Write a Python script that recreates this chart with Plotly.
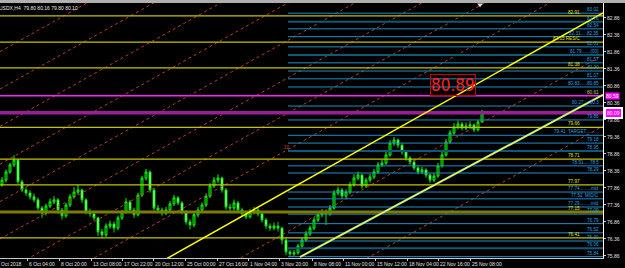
import plotly.graph_objects as go

# ---------------- data ----------------
title_text = "USDX,H4  79.80 80.16 79.80 80.10"

first_open = 77.95
closes = [78.09, 78.33, 78.54, 78.68, 78.04, 77.80, 77.71, 77.60, 77.51, 77.27,
          77.12, 77.33, 77.45, 77.51, 77.21, 77.04, 77.36, 77.60, 77.74, 77.80,
          77.51, 77.15, 77.10, 76.98, 76.57, 76.48, 76.74, 76.80, 76.68, 76.98,
          77.15, 77.45, 77.21, 77.07, 77.65, 78.15, 78.33, 77.80, 77.27, 77.21,
          77.12, 77.21, 77.39, 77.57, 77.42, 77.15, 76.86, 76.77, 77.07, 77.21,
          77.36, 77.62, 77.92, 78.09, 78.15, 77.80, 77.30, 77.27, 77.42, 77.21,
          77.10, 77.01, 77.15, 77.21, 77.10, 76.92, 76.74, 76.68, 76.74, 76.68,
          76.33, 75.98, 75.92, 75.95, 76.15, 76.33, 76.51, 76.68, 76.92, 77.07,
          77.15, 77.10, 77.27, 77.71, 77.80, 77.62, 77.74, 77.95, 78.15, 78.24,
          77.92, 78.09, 78.18, 78.33, 78.54, 78.59, 78.83, 79.18, 79.27, 79.12,
          78.92, 78.74, 78.62, 78.45, 78.33, 78.39, 78.24, 78.09, 78.21, 78.51,
          78.83, 79.21, 79.48, 79.65, 79.74, 79.62, 79.68, 79.71, 79.57, 79.80,
          80.10]
highs = [78.18, 78.40, 78.60, 78.82, 78.72, 78.10, 77.88, 77.79, 77.70, 77.58,
         77.33, 77.40, 77.55, 77.62, 77.56, 77.27, 77.42, 77.68, 77.88, 77.95,
         77.84, 77.56, 77.25, 77.16, 77.02, 76.66, 76.82, 76.90, 76.88, 77.05,
         77.22, 77.56, 77.50, 77.28, 77.72, 78.22, 78.42, 78.38, 77.86, 77.36,
         77.28, 77.30, 77.48, 77.66, 77.62, 77.48, 77.20, 76.94, 77.14, 77.30,
         77.44, 77.70, 78.00, 78.18, 78.26, 78.20, 77.86, 77.40, 77.52, 77.48,
         77.28, 77.18, 77.24, 77.30, 77.28, 77.16, 76.98, 76.82, 76.84, 76.86,
         76.72, 76.40, 76.04, 76.03, 76.22, 76.40, 76.60, 76.76, 77.00, 77.16,
         77.24, 77.22, 77.36, 77.80, 77.90, 77.86, 77.82, 78.04, 78.26, 78.34,
         78.28, 78.16, 78.28, 78.42, 78.62, 78.70, 78.92, 79.26, 79.36, 79.32,
         79.18, 78.98, 78.80, 78.68, 78.52, 78.48, 78.44, 78.30, 78.30, 78.60,
         78.92, 79.30, 79.56, 79.76, 79.84, 79.80, 79.78, 79.82, 79.76, 79.86,
         80.16]
lows = [77.90, 78.02, 78.28, 78.48, 77.98, 77.74, 77.63, 77.52, 77.44, 77.20,
        76.98, 77.05, 77.27, 77.38, 77.10, 76.93, 76.98, 77.30, 77.55, 77.66,
        77.42, 77.08, 77.02, 76.90, 76.45, 76.39, 76.42, 76.66, 76.55, 76.62,
        76.92, 77.10, 77.12, 76.98, 77.02, 77.60, 78.08, 77.72, 77.20, 77.12,
        77.04, 77.06, 77.15, 77.33, 77.35, 77.08, 76.78, 76.64, 76.70, 77.00,
        77.14, 77.30, 77.56, 77.86, 78.00, 77.72, 77.22, 77.18, 77.20, 77.12,
        77.02, 76.94, 76.96, 77.08, 77.02, 76.84, 76.66, 76.60, 76.62, 76.58,
        76.20, 75.88, 75.84, 75.86, 75.90, 76.10, 76.28, 76.45, 76.62, 76.86,
        77.00, 76.77, 77.04, 77.22, 77.64, 77.54, 77.56, 77.68, 77.90, 78.08,
        77.84, 77.86, 78.02, 78.12, 78.28, 78.48, 78.54, 78.78, 79.10, 79.04,
        78.84, 78.66, 78.54, 78.38, 78.26, 78.27, 78.16, 78.01, 78.03, 78.16,
        78.46, 78.78, 79.16, 79.42, 79.58, 79.55, 79.56, 79.60, 79.50, 79.52,
        79.80]

x_tick_pos = [13.5, 29.5, 45.5, 61, 76.5, 92.5, 108.5, 124, 139.5, 156, 171.5, 187.5, 203.5, 219, 235]
x_tick_labels = ["6 Oct 04:00", "8 Oct 20:00", "13 Oct 08:00", "17 Oct 22:00", "20 Oct 12:00",
                 "25 Oct 00:00", "27 Oct 16:00", "1 Nov 04:00", "3 Nov 20:00", "8 Nov 08:00",
                 "11 Nov 00:00", "15 Nov 12:00", "18 Nov 04:00", "22 Nov 16:00", "25 Nov 08:00"]
first_x_label = "Oct 2018"

y_tick_vals = [82.86, 82.36, 81.86, 81.36, 80.86, 80.36, 79.86, 79.36, 78.86, 78.36,
               77.86, 77.36, 76.86, 76.36, 75.86]
y_tick_labels = ["82.86", "82.36", "81.86", "81.36", "80.86", "80.36", "79.86", "79.36",
                 "78.86", "78.36", "77.86", "77.36", "76.86", "76.36", "75.86"]

# horizontal levels
blue_levels = [83.00, 82.54, 82.31, 82.01, 81.54, 81.30, 81.07, 80.83, 80.27, 79.86, 79.41,
               79.18, 78.51, 78.30, 77.74, 77.54, 77.30, 77.09, 76.81, 76.54, 76.30, 75.84]
blue_labels = ["83.02", "82.54", "82.31.....82.35", "82.01", "81.57", ".....81.30", "81.07",
               "80.83......80.85", "80.27.....80.3", "79.86", "79.41  TARGET..........", "79.18",
               "78.51.....78.5", "78.29", "77.74.........mid", "77.52  MID/C",
               "77.29.........mid", "77.09", "76.79", "76.52", "76.30", "75.84"]
dark_levels = [82.75, 81.77, 78.95, 76.09]
dark_labels = ["82.76", "81.79.......(00)", "78.95", "76.06"]
yellow_levels = [82.92, 82.15, 81.39, 79.64, 78.71, 77.95, 76.39]
yellow_labels = ["82.91", "82.15 RES/C", "81.38", "79.66", "78.71", "77.97", "76.41"]
olive_level = 77.15
olive_label = "77.15"
magenta_thin_level = 80.57
magenta_thin_label = "80.61"
magenta_thick_level = 80.07
axis_tag_high = "80.59"
axis_tag_low = "80.09"

level_start_bar = 144
chart_end_bar = 301.5

# diagonal channel lines: (bar, price) anchors
upper_channel_bars = [80, 301.5]
upper_channel_prices = [75.67, 83.01]
lower_channel_bars = [150, 301.5]
lower_channel_prices = [75.83, 80.60]
# red dashed fan lines: price at bar 0 and at chart end
red_start = [81.87, 80.77, 79.67, 78.56, 77.46, 76.36, 75.32, 74.25, 71.84, 69.75]
red_end = [91.80, 90.70, 89.60, 88.49, 87.39, 86.29, 85.25, 84.18, 81.77, 79.68]

price_box_bar = 226.5
price_box_value = 80.89
price_box_text = "80.89"
marker_bar = 143.5
marker_price = 79.04
marker_text = "10"

# ---------------- figure ----------------
opens = [first_open] + closes[:-1]
xs = [1 + 2 * i for i in range(len(closes))]

fig = go.Figure()
FONT = "Liberation Sans, Arial, sans-serif"

# red dashed lines
for a, b in zip(red_start, red_end):
    fig.add_trace(go.Scatter(x=[0, chart_end_bar], y=[a, b], mode="lines",
                             line=dict(color="#b8401c", width=1, dash="3px,3px"),
                             hoverinfo="skip", showlegend=False))

def hline_group(levels, x0, color, width):
    xx, yy = [], []
    for lv in levels:
        xx += [x0, chart_end_bar, None]
        yy += [lv, lv, None]
    fig.add_trace(go.Scatter(x=xx, y=yy, mode="lines", line=dict(color=color, width=width),
                             hoverinfo="skip", showlegend=False))

hline_group(dark_levels, level_start_bar, "#0c5a7a", 2)
hline_group(blue_levels, level_start_bar, "#1e8ecc", 1)
hline_group(yellow_levels, 0, "#c4c400", 1.2)
hline_group([olive_level], 0, "#7c7c00", 3)
hline_group([magenta_thick_level], 0, "#9a1e9a", 3.5)
hline_group([magenta_thin_level], 0, "#ff20ff", 1.5)

# channel lines
fig.add_trace(go.Scatter(x=upper_channel_bars, y=upper_channel_prices, mode="lines",
                         line=dict(color="#ffff00", width=1.5), hoverinfo="skip", showlegend=False))
fig.add_trace(go.Scatter(x=lower_channel_bars, y=lower_channel_prices, mode="lines",
                         line=dict(color="#58a8e8", width=2.2), hoverinfo="skip", showlegend=False))
fig.add_trace(go.Scatter(x=lower_channel_bars, y=lower_channel_prices, mode="lines",
                         line=dict(color="#ffff20", width=1.3), hoverinfo="skip", showlegend=False))

# candles (MT4 green-on-black: bull body black, bear body white, lime outlines)
fig.add_trace(go.Candlestick(x=xs, open=opens, high=highs, low=lows, close=closes,
                             increasing=dict(line=dict(color="#00ff00", width=1), fillcolor="#003a00"),
                             decreasing=dict(line=dict(color="#00e000", width=1), fillcolor="#d8ffd8"),
                             whiskerwidth=0, hoverinfo="skip", showlegend=False))

# chart shift marker
fig.add_trace(go.Scatter(x=[240], y=[83.25], mode="markers",
                         marker=dict(symbol="triangle-down", size=5, color="#e0e0e0"),
                         hoverinfo="skip", showlegend=False))

ann = []
def lab(x, y, text, color, size=4.6):
    ann.append(dict(x=x, y=y, xref="x", yref="y", text=text, showarrow=False,
                    xanchor="right", yanchor="bottom", yshift=-1,
                    font=dict(family=FONT, size=size, color=color)))

for lv, t in zip(blue_levels, blue_labels):
    lab(300.5, lv, t, "#2aa0e0")
for lv, t in zip(dark_levels, dark_labels):
    lab(300.5, lv, t, "#2aa0e0")
for lv, t in zip(yellow_levels, yellow_labels):
    lab(291, lv, t, "#e4e400")
lab(291, olive_level, olive_label, "#e4e400")
lab(300.5, magenta_thin_level, magenta_thin_label, "#c8c860")

# x labels (left aligned at tick)
ann.append(dict(x=0, y=0, xref="x", yref="paper", text=first_x_label, showarrow=False,
                xanchor="left", yanchor="top", yshift=-1, xshift=-1,
                font=dict(family=FONT, size=5, color="#e0e0e0")))
for p, t in zip(x_tick_pos, x_tick_labels):
    ann.append(dict(x=p, y=0, xref="x", yref="paper", text=t, showarrow=False,
                    xanchor="left", yanchor="top", yshift=-1,
                    font=dict(family=FONT, size=5, color="#e0e0e0")))

# title
ann.append(dict(x=0, y=1, xref="paper", yref="paper", text=title_text, showarrow=False,
                xanchor="left", yanchor="top", xshift=-3, yshift=0,
                font=dict(family=FONT, size=5, color="#e8e8e8")))

# big price box
ann.append(dict(x=price_box_bar, y=price_box_value, xref="x", yref="y", text=price_box_text,
                showarrow=False, xanchor="center", yanchor="middle",
                bordercolor="#d00000", borderwidth=1, borderpad=0,
                font=dict(family="Liberation Sans Narrow, Arial Narrow, DejaVu Sans Condensed, sans-serif",
                          size=17, color="#ff2020")))
# small red mark
ann.append(dict(x=marker_bar, y=marker_price, xref="x", yref="y", text=marker_text, showarrow=False,
                font=dict(family=FONT, size=4.5, color="#d04020")))

# axis price tags
ann.append(dict(x=1, y=magenta_thin_level, xref="paper", yref="y", text=axis_tag_high, showarrow=False,
                xanchor="left", yanchor="middle", xshift=2, bgcolor="#ff00ff", borderpad=0,
                font=dict(family=FONT, size=5, color="#ffffff")))
ann.append(dict(x=1, y=magenta_thick_level, xref="paper", yref="y", text=axis_tag_low, showarrow=False,
                xanchor="left", yanchor="middle", xshift=1, bgcolor="#ff00ff", borderpad=1,
                bordercolor="#ffffff", borderwidth=2,
                font=dict(family=FONT, size=5, color="#ffffff")))

fig.update_layout(
    width=625, height=268,
    margin=dict(l=0, r=22, t=3, b=10),
    paper_bgcolor="#000000", plot_bgcolor="#000000",
    annotations=ann,
    shapes=[dict(type="rect", xref="paper", yref="paper", x0=-0.01, x1=1.1, y0=1.0, y1=1.02,
                 fillcolor="#b0b0b0", line=dict(width=0), layer="above")],
    xaxis=dict(range=[0, chart_end_bar], showgrid=False, zeroline=False, showline=True,
               linecolor="#c8c8c8", linewidth=1, ticks="outside", ticklen=2, tickcolor="#c8c8c8",
               tickvals=x_tick_pos, showticklabels=False, rangeslider=dict(visible=False),
               fixedrange=True),
    yaxis=dict(range=[75.80, 83.30], side="right", showgrid=False, zeroline=False, showline=True,
               linecolor="#ffffff", linewidth=1, ticks="outside", ticklen=2, tickcolor="#c8c8c8",
               tickvals=y_tick_vals, ticktext=y_tick_labels,
               tickfont=dict(family=FONT, size=5, color="#e0e0e0"), fixedrange=True),
    showlegend=False,
)

fig.write_html("out.html")
